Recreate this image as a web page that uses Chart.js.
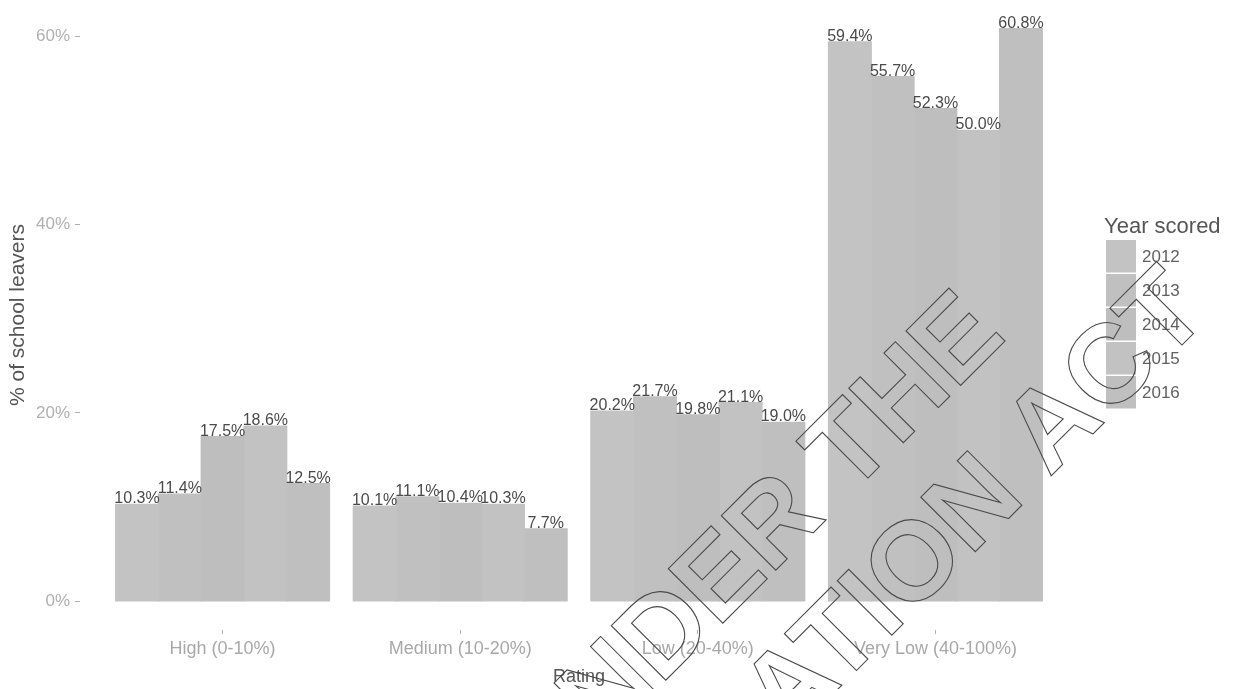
<!DOCTYPE html>
<html>
<head>
<meta charset="utf-8">
<title>School leavers by rating</title>
<script src="https://cdn.jsdelivr.net/npm/chart.js@4"></script>
<style>
  html, body { margin: 0; padding: 0; background: #ffffff; }
  #wrap { width: 1236px; height: 689px; }
</style>
</head>
<body>
<div id="wrap"><canvas id="chart" width="1236" height="689"></canvas></div>
<script>
// ====== data ======
const CATEGORIES = ['High (0-10%)', 'Medium (10-20%)', 'Low (20-40%)', 'Very Low (40-100%)'];
const YEARS = ['2012', '2013', '2014', '2015', '2016'];
const VALUES_2012 = [10.3, 10.1, 20.2, 59.4];
const VALUES_2013 = [11.4, 11.1, 21.7, 55.7];
const VALUES_2014 = [17.5, 10.4, 19.8, 52.3];
const VALUES_2015 = [18.6, 10.3, 21.1, 50.0];
const VALUES_2016 = [12.5, 7.7, 19.0, 60.8];
const Y_TICKS = [0, 20, 40, 60];

const SERIES = [VALUES_2012, VALUES_2013, VALUES_2014, VALUES_2015, VALUES_2016];
// scanned grey, each year only a shade apart
const BAR_COLORS = ['#c3c3c3', '#c0c0c0', '#bebebe', '#c2c2c2', '#bfbfbf'];

const FONT = '"Liberation Sans", Arial, Helvetica, sans-serif';

// ====== value labels over the bars ======
const valueLabelPlugin = {
  id: 'valueLabels',
  afterDatasetsDraw(chart) {
    const { ctx } = chart;
    ctx.save();
    ctx.fillStyle = '#4a4a4a';
    ctx.font = '16px ' + FONT;
    ctx.textAlign = 'center';
    ctx.textBaseline = 'alphabetic';
    chart.data.datasets.forEach((ds, di) => {
      const meta = chart.getDatasetMeta(di);
      meta.data.forEach((bar, i) => {
        const v = SERIES[di][i];
        ctx.fillText(v.toFixed(1) + '%', bar.x, bar.y - 1);
      });
    });
    ctx.restore();
  }
};

// ====== legend + axis titles (ggplot style) ======
const sideTextPlugin = {
  id: 'sideText',
  afterDraw(chart) {
    const { ctx, chartArea } = chart;
    ctx.save();

    // y title
    ctx.fillStyle = '#555555';
    ctx.font = '21px ' + FONT;
    ctx.textAlign = 'center';
    ctx.textBaseline = 'middle';
    ctx.translate(18, 315);
    ctx.rotate(-Math.PI / 2);
    ctx.fillText('% of school leavers', 0, 0);
    ctx.setTransform(1, 0, 0, 1, 0, 0);

    // x title
    ctx.font = '18px ' + FONT;
    ctx.fillText('Rating', (chartArea.left + chartArea.right) / 2, 677);

    // legend
    ctx.textAlign = 'left';
    ctx.textBaseline = 'alphabetic';
    ctx.font = '22px ' + FONT;
    ctx.fillText('Year scored', 1104, 233);
    const boxX = 1106, boxW = 30, boxTop = 240, pitch = 34, boxH = 32.5;
    chart.data.datasets.forEach((ds, i) => {
      const y = boxTop + i * pitch;
      ctx.fillStyle = ds.backgroundColor;
      ctx.fillRect(boxX, y, boxW, boxH);
      ctx.fillStyle = '#606060';
      ctx.font = '17px ' + FONT;
      ctx.textBaseline = 'middle';
      ctx.fillText(ds.label, 1142, y + boxH / 2 + 1);
    });
    ctx.restore();
  }
};

// ====== outlined release stamp across the page ======
const stampPlugin = {
  id: 'stamp',
  afterDraw(chart) {
    const { ctx } = chart;
    ctx.save();
    ctx.strokeStyle = '#4a4a4a';
    ctx.lineWidth = 1.1;
    ctx.font = 'bold 112px ' + FONT;
    ctx.textAlign = 'right';
    ctx.textBaseline = 'alphabetic';
    const lines = [
      { text: 'RELEASED UNDER THE', x: 1008, y: 338 },
      { text: 'OFFICIAL INFORMATION ACT', x: 1212, y: 315 }
    ];
    lines.forEach(l => {
      ctx.save();
      ctx.translate(l.x, l.y);
      ctx.rotate(-Math.PI / 4);
      ctx.strokeText(l.text, 0, 0);
      ctx.restore();
    });
    ctx.restore();
  }
};

const datasets = YEARS.map((yr, di) => ({
  label: yr,
  data: SERIES[di].map((v, i) => ({ x: i, y: v })),
  backgroundColor: BAR_COLORS[di],
  borderWidth: 0,
  inflateAmount: 0.6,
  categoryPercentage: 0.9,
  barPercentage: 1.0
}));

new Chart(document.getElementById('chart').getContext('2d'), {
  type: 'bar',
  data: { datasets },
  options: {
    responsive: false,
    animation: false,
    layout: { padding: { left: 0, right: 158, top: 0, bottom: 0 } },
    plugins: {
      legend: { display: false },
      tooltip: { enabled: false }
    },
    scales: {
      x: {
        type: 'linear',
        min: -0.6,
        max: 3.6,
        offset: false,
        afterBuildTicks: axis => { axis.ticks = CATEGORIES.map((c, i) => ({ value: i })); },
        afterFit: axis => { axis.height = 59; axis.paddingLeft = 0; axis.paddingRight = 0; },
        ticks: {
          autoSkip: false,
          maxRotation: 0,
          padding: 4,
          color: '#a8a8a8',
          font: { family: FONT, size: 18 },
          callback: v => CATEGORIES[v]
        },
        grid: { offset: false, drawOnChartArea: false, drawTicks: true, tickLength: 4, tickColor: '#b0b0b0' },
        border: { display: false }
      },
      y: {
        type: 'linear',
        min: -3.04,
        max: 63.84,
        afterBuildTicks: axis => { axis.ticks = Y_TICKS.map(v => ({ value: v })); },
        afterFit: axis => { axis.width = 80; axis.paddingTop = 0; axis.paddingBottom = 0; },
        ticks: {
          padding: 5,
          color: '#b0b0b0',
          font: { family: FONT, size: 17 },
          callback: v => v + '%'
        },
        grid: { drawOnChartArea: false, drawTicks: true, tickLength: 5, tickColor: '#b0b0b0' },
        border: { display: false }
      }
    }
  },
  plugins: [valueLabelPlugin, sideTextPlugin, stampPlugin]
});
</script>
</body>
</html>
